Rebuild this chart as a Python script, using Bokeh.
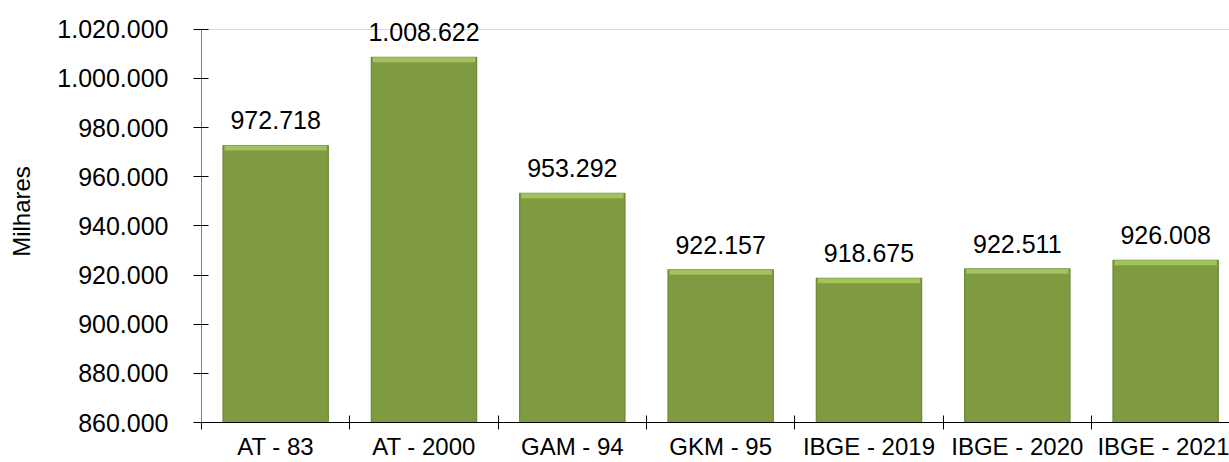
from bokeh.plotting import figure
from bokeh.models import (Range1d, FixedTicker, CustomJSTickFormatter, ColumnDataSource, LabelSet)
from bokeh.core.properties import value
from bokeh.embed import file_html
from bokeh.resources import INLINE

categories = ["AT - 83", "AT - 2000", "GAM - 94", "GKM - 95", "IBGE - 2019", "IBGE - 2020", "IBGE - 2021"]
values = [972718, 1008622, 953292, 922157, 918675, 922511, 926008]
y_ticks = [860000, 880000, 900000, 920000, 940000, 960000, 980000, 1000000, 1020000]

FONT = "Liberation Sans"

def fmt(v):
    return f"{v:,}".replace(",", ".")

# layout (pixels)
W, H = 1229, 462
LEFT, BOTTOM = 201, 37
frame_h = H - BOTTOM
span = y_ticks[-1] - y_ticks[0]
px_per_unit = 396 / span          # tick range 860k..1020k spans 396 px
y_end = y_ticks[0] + frame_h / px_per_unit
cat_px = 148.33
x_end = (W - LEFT) / cat_px

x = [i + 0.5 for i in range(len(categories))]
hl = 5 / px_per_unit
src = ColumnDataSource(dict(
    x=x, top=values, label=[fmt(v) for v in values],
    hl_bottom=[v - hl for v in values],
))

p = figure(width=W, height=H, output_backend="svg", toolbar_location=None,
           x_range=Range1d(0, x_end), y_range=Range1d(y_ticks[0], y_end),
           min_border_left=LEFT, min_border_right=0, min_border_top=0, min_border_bottom=BOTTOM)
p.outline_line_color = None
p.background_fill_color = "white"
p.border_fill_color = "white"

p.vbar(x="x", top="top", bottom=y_ticks[0], width=0.71, source=src,
       fill_color="#7e9b41", line_color="#6c8837", line_width=1.2)
p.vbar(x="x", top="top", bottom="hl_bottom", width=0.69, source=src,
       fill_color="#a2c25c", line_color=None)

labels = LabelSet(x="x", y="top", text="label", source=src, text_align="center",
                  text_baseline="alphabetic", y_offset=16, text_font=value(FONT),
                  text_font_size=value("25px"), text_color="#000000")
p.add_layout(labels)

# y axis
p.yaxis.bounds = (y_ticks[0], y_ticks[-1])
p.yaxis.ticker = FixedTicker(ticks=y_ticks, minor_ticks=[])
p.yaxis.formatter = CustomJSTickFormatter(code="""
return Math.round(tick).toString().replace(/\\B(?=(\\d{3})+(?!\\d))/g, '.');
""")
p.yaxis.axis_label = "Milhares"
p.yaxis.axis_label_text_font = FONT
p.yaxis.axis_label_text_font_size = "24px"
p.yaxis.axis_label_text_font_style = "normal"
p.yaxis.axis_label_text_color = "#000000"
p.yaxis.axis_label_standoff = 19
p.yaxis.major_label_text_font = FONT
p.yaxis.major_label_text_font_size = "25px"
p.yaxis.major_label_text_color = "#000000"
p.yaxis.major_label_standoff = 25
p.yaxis.axis_line_color = "#7f7f7f"
p.yaxis.major_tick_line_color = "#000000"
p.yaxis.major_tick_in = 7
p.yaxis.major_tick_out = 8
p.yaxis.minor_tick_line_color = None

# x axis
p.xaxis.ticker = FixedTicker(ticks=x, minor_ticks=list(range(len(categories) + 1)))
p.xaxis.major_label_overrides = {xi: c for xi, c in zip(x, categories)}
p.xaxis.major_label_text_font = FONT
p.xaxis.major_label_text_font_size = "24px"
p.xaxis.major_label_text_color = "#000000"
p.xaxis.major_label_standoff = 3
p.xaxis.axis_line_color = "#000000"
p.xaxis.major_tick_line_color = None
p.xaxis.major_tick_in = 0
p.xaxis.major_tick_out = 7
p.xaxis.minor_tick_line_color = "#000000"
p.xaxis.minor_tick_in = 7
p.xaxis.minor_tick_out = 7

p.xgrid.grid_line_color = None
p.ygrid.ticker = FixedTicker(ticks=[y_ticks[-1]])
p.ygrid.grid_line_color = "#d9d9d9"
p.ygrid.grid_line_width = 1

open("out.html", "w").write(file_html(p, INLINE))
